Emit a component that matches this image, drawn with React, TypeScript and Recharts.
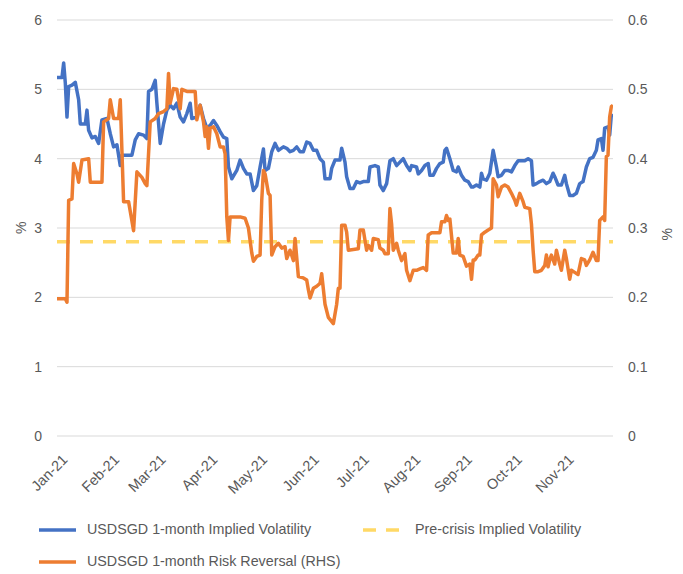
import React from 'react';
import { LineChart, Line, XAxis, YAxis, CartesianGrid, ReferenceLine } from 'recharts';

// Day offsets from 1 Jan 2021 and values
const volDays = [0,3,4,5,6,7,9,11,13,14,17,18,19,21,23,25,27,30,32,34,36,38,39,45,47,49,52,54,55,57,59,60,62,64,66,68,70,72,74,76,78,80,81,84,86,88,90,92,94,96,98,100,102,103,105,108,110,112,114,116,118,120,122,124,125,127,129,131,133,136,138,140,142,144,146,148,150,152,154,156,158,160,161,164,165,167,170,171,173,174,176,178,180,182,184,187,188,191,193,194,196,198,200,202,204,206,208,210,212,213,216,217,219,221,223,224,226,228,230,232,233,234,236,238,240,241,243,245,247,249,250,252,254,255,256,258,260,262,264,265,267,269,271,273,275,277,281,283,285,286,288,290,292,294,296,298,299,301,303,305,306,308,310,312,314,316,318,320,322,324,325,327,328,329,331,332,333,334];
const volValues = [5.17,5.17,5.38,5.09,4.6,5.04,5.06,5.1,4.85,4.5,4.5,4.7,4.41,4.3,4.32,4.22,4.56,4.58,4.36,4.17,4.2,3.9,4.05,4.05,4.27,4.36,4.34,4.29,4.97,5.0,5.13,4.8,4.22,4.5,4.7,4.77,4.72,4.8,4.6,4.53,4.65,4.8,4.58,4.6,4.77,4.58,4.44,4.48,4.55,4.48,4.39,4.31,4.29,3.88,3.71,3.83,3.98,3.86,3.78,3.78,3.54,3.61,3.88,4.14,3.83,3.86,4.1,4.22,4.12,4.17,4.15,4.1,4.12,4.17,4.1,4.1,4.24,4.22,4.12,4.12,4.0,3.95,3.71,3.71,3.86,3.98,3.98,4.15,3.95,3.74,3.57,3.57,3.67,3.65,3.67,3.67,3.88,3.9,3.88,3.62,3.54,3.64,3.97,4.0,3.9,3.95,4.0,3.9,3.83,3.9,3.88,3.78,3.83,3.9,3.93,3.76,3.76,3.86,3.93,3.95,4.12,4.15,4.0,3.83,3.81,3.88,3.76,3.69,3.67,3.59,3.59,3.62,3.59,3.79,3.71,3.69,3.79,4.12,3.88,3.74,3.76,3.83,3.83,3.81,3.9,3.97,3.97,4.0,3.97,3.62,3.64,3.67,3.69,3.64,3.67,3.79,3.74,3.62,3.62,3.76,3.64,3.47,3.47,3.5,3.64,3.67,3.88,4.0,4.02,4.12,4.27,4.29,4.12,4.44,4.46,4.34,4.63,4.6];

const rrDays = [0,5,6,7,9,10,12,13,15,19,20,27,28,31,32,34,37,38,40,43,45,46,48,51,53,54,56,59,61,64,66,67,68,70,72,74,75,78,81,83,84,86,88,89,90,91,92,94,96,98,100,101,102,103,104,110,113,115,117,118,120,122,123,124,125,127,128,129,131,133,135,137,138,140,142,143,145,148,150,151,152,154,156,158,159,161,163,166,168,169,170,171,173,174,175,181,182,184,186,187,189,190,193,194,196,197,199,200,201,202,204,205,207,209,210,212,214,216,218,220,222,223,225,230,231,233,234,235,236,238,240,241,242,244,246,248,249,250,251,253,254,255,257,259,261,262,264,265,267,269,271,273,275,276,277,278,280,281,284,285,286,287,289,291,293,294,295,296,297,299,300,302,303,305,306,308,309,311,313,315,317,318,320,322,324,325,326,328,329,330,331,332,333,334];
const rrValues = [0.198,0.198,0.193,0.34,0.342,0.393,0.378,0.366,0.398,0.4,0.366,0.366,0.453,0.458,0.485,0.458,0.458,0.485,0.338,0.338,0.31,0.296,0.381,0.373,0.364,0.361,0.453,0.458,0.465,0.468,0.472,0.523,0.48,0.501,0.5,0.472,0.5,0.497,0.497,0.497,0.456,0.477,0.453,0.432,0.446,0.415,0.444,0.446,0.436,0.417,0.417,0.407,0.316,0.282,0.316,0.316,0.314,0.3,0.264,0.252,0.259,0.261,0.34,0.383,0.378,0.35,0.347,0.261,0.273,0.278,0.271,0.273,0.256,0.268,0.253,0.285,0.23,0.228,0.225,0.211,0.199,0.213,0.216,0.22,0.234,0.19,0.171,0.162,0.19,0.213,0.213,0.304,0.304,0.294,0.268,0.27,0.297,0.297,0.268,0.275,0.268,0.285,0.283,0.271,0.268,0.263,0.263,0.328,0.306,0.268,0.278,0.268,0.253,0.263,0.239,0.224,0.239,0.239,0.241,0.243,0.239,0.29,0.293,0.293,0.309,0.309,0.318,0.311,0.313,0.264,0.264,0.285,0.261,0.259,0.245,0.248,0.226,0.254,0.254,0.261,0.261,0.29,0.294,0.297,0.3,0.371,0.362,0.345,0.359,0.362,0.359,0.35,0.34,0.333,0.342,0.35,0.338,0.33,0.328,0.306,0.268,0.237,0.237,0.239,0.246,0.261,0.244,0.254,0.261,0.248,0.268,0.248,0.239,0.268,0.256,0.226,0.239,0.236,0.233,0.256,0.254,0.246,0.254,0.265,0.253,0.253,0.311,0.316,0.311,0.403,0.405,0.46,0.475,0.477];

const preCrisisLevel = 2.8;

const monthTicks = [0,31,59,90,120,151,181,212,243,273,304];
const monthLabels = ['Jan-21','Feb-21','Mar-21','Apr-21','May-21','Jun-21','Jul-21','Aug-21','Sep-21','Oct-21','Nov-21'];
const leftTicks = [0,1,2,3,4,5,6];
const rightTicks = [0,0.1,0.2,0.3,0.4,0.5,0.6];

const volData = volDays.map((d, i) => ({ day: d, vol: volValues[i] }));
const rrData = rrDays.map((d, i) => ({ day: d, rr: rrValues[i] }));

const TEXT = '#595959';
const FONT = '"Liberation Sans", Arial, sans-serif';

const MonthTick = (props: any) => {
  const { x, y, payload } = props;
  const idx = monthTicks.indexOf(payload.value);
  const label = idx >= 0 ? monthLabels[idx] : '';
  const ax = x + 8;
  const ay = y + 13;
  return (
    <text x={ax} y={ay} textAnchor="end" dominantBaseline="central" fill={TEXT} fontSize={14.5} fontFamily={FONT}
      transform={`rotate(-45, ${ax}, ${ay})`}>{label}</text>
  );
};

export default function App() {
  return (
    <div style={{ position: 'absolute', left: 0, top: 0, width: 683, height: 574, background: '#fff', fontFamily: FONT }}>
      <LineChart width={683} height={574} margin={{ top: 20, right: 0, left: 0, bottom: 78 }} style={{ fontFamily: FONT }}>
        <CartesianGrid yAxisId="left" vertical={false} stroke="#d9d9d9" strokeWidth={1} />
        <XAxis dataKey="day" type="number" domain={[0, 334]} ticks={monthTicks} interval={0}
          axisLine={false} tickLine={false} height={60} tick={<MonthTick />} allowDataOverflow />
        <YAxis yAxisId="left" orientation="left" domain={[0, 6]} ticks={leftTicks} width={57}
          axisLine={false} tickLine={false} tickMargin={9} tick={{ fill: TEXT, fontSize: 14 }}
          label={{ value: '%', angle: -90, position: 'insideLeft', offset: 21, dy: 6, fill: TEXT, fontSize: 14 }} />
        <YAxis yAxisId="right" orientation="right" domain={[0, 0.6]} ticks={rightTicks} width={70}
          axisLine={false} tickLine={false} tickMargin={9} tick={{ fill: TEXT, fontSize: 14, textAnchor: 'start' }}
          tickFormatter={(v: number) => (v === 0 ? '0' : v.toFixed(1))}
          label={{ value: '%', angle: -90, position: 'insideRight', offset: 16, fill: TEXT, fontSize: 14 }} />
        <ReferenceLine yAxisId="left" y={preCrisisLevel} stroke="#FFD966" strokeWidth={3.5} strokeDasharray="13 10" />
        <Line yAxisId="left" data={volData} dataKey="vol" type="linear" stroke="#4472C4" strokeWidth={3.5}
          dot={false} isAnimationActive={false} strokeLinejoin="round" />
        <Line yAxisId="right" data={rrData} dataKey="rr" type="linear" stroke="#ED7D31" strokeWidth={3.5}
          dot={false} isAnimationActive={false} strokeLinejoin="round" />
      </LineChart>
      <div style={{ position: 'absolute', left: 0, top: 0, width: 683, height: 574, pointerEvents: 'none', color: TEXT, fontSize: 14.3 }}>
        <svg style={{ position: 'absolute', left: 0, top: 0 }} width={683} height={574}>
          <line x1={39} x2={76} y1={530} y2={530} stroke="#4472C4" strokeWidth={3.5} />
          <line x1={363} x2={407} y1={530} y2={530} stroke="#FFD966" strokeWidth={3.5} strokeDasharray="13 10" />
          <line x1={39} x2={76} y1={562} y2={562} stroke="#ED7D31" strokeWidth={3.5} />
        </svg>
        <div style={{ position: 'absolute', left: 87, top: 521, whiteSpace: 'nowrap' }}>USDSGD 1-month Implied Volatility</div>
        <div style={{ position: 'absolute', left: 415, top: 521, whiteSpace: 'nowrap' }}>Pre-crisis Implied Volatility</div>
        <div style={{ position: 'absolute', left: 87, top: 553, whiteSpace: 'nowrap' }}>USDSGD 1-month Risk Reversal (RHS)</div>
      </div>
    </div>
  );
}
